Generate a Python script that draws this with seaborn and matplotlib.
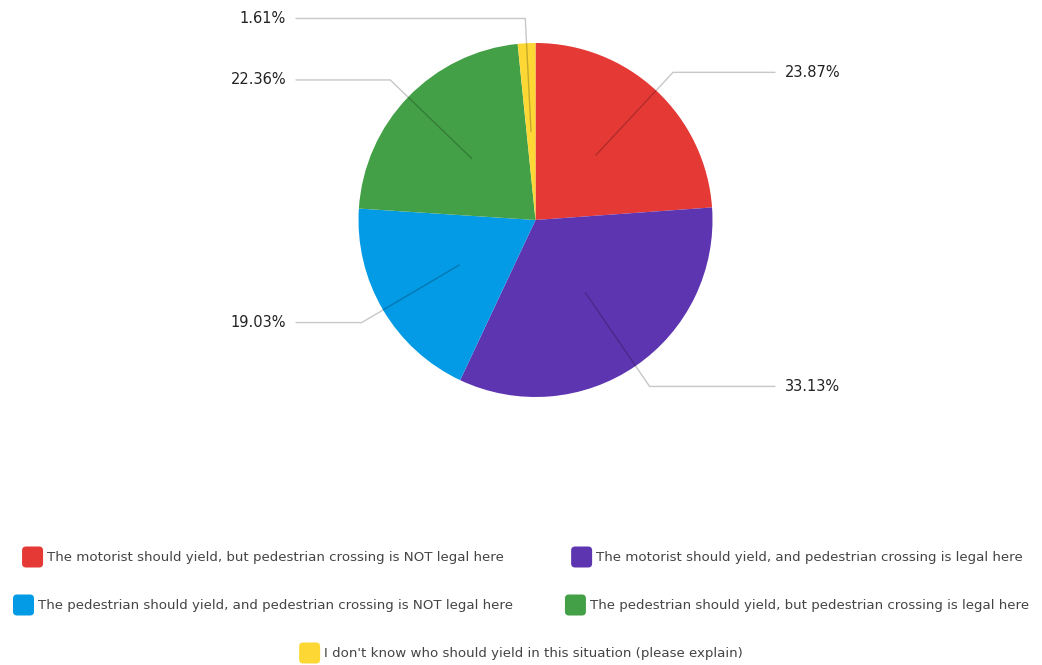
import numpy as np
import matplotlib
matplotlib.use("Agg")
import matplotlib.pyplot as plt
from matplotlib.patches import FancyBboxPatch
import seaborn as sns

# Survey responses, in drawing order (clockwise from 12 o'clock)
categories = [
    "The motorist should yield, but pedestrian crossing is NOT legal here",
    "The motorist should yield, and pedestrian crossing is legal here",
    "The pedestrian should yield, and pedestrian crossing is NOT legal here",
    "The pedestrian should yield, but pedestrian crossing is legal here",
    "I don't know who should yield in this situation (please explain)",
]
shares = [23.87, 33.13, 19.03, 22.36, 1.61]
colors = ["#E53935", "#5E35B1", "#039BE5", "#43A047", "#FDD835"]

sns.set_theme(style="white")
plt.rcParams["font.family"] = ["DejaVu Sans"]

W, H = 1042, 665
fig = plt.figure(figsize=(W / 100, H / 100), dpi=100)

# pie axes placed in pixel terms: centre and radius
cx, cy, r = 535.5, 220.0, 177.0
ax = fig.add_axes([(cx - r) / W, (H - cy - r) / H, 2 * r / W, 2 * r / H])

wedges, _ = ax.pie(shares, colors=colors, startangle=90, counterclock=False,
                   radius=1, wedgeprops=dict(linewidth=0))
ax.set_xlim(-1, 1)
ax.set_ylim(-1, 1)
ax.set_aspect("equal")
ax.axis("off")

# leader lines with percentage labels
x_end = (775 - cx) / r
x_txt = (785 - cx) / r
for w, v in zip(wedges, shares):
    ang = np.deg2rad((w.theta1 + w.theta2) / 2)
    c, s = np.cos(ang), np.sin(ang)
    p0 = (0.5 * c, 0.5 * s)
    p1 = (1.14 * c, 1.14 * s)
    side = 1 if c > 0.1 else -1
    p2 = (side * x_end, p1[1])
    ax.plot([p0[0], p1[0], p2[0]], [p0[1], p1[1], p2[1]], color="black",
            alpha=0.22, lw=1, clip_on=False, solid_joinstyle="miter")
    ax.text(side * x_txt, p1[1], f"{v:.2f}%", ha="left" if side > 0 else "right",
            va="center", fontsize=10.5, color="#222222", clip_on=False)

# legend: two centred columns, last entry centred on its own row
fig.canvas.draw()
renderer = fig.canvas.get_renderer()
rows = [(557, 263, 0), (557, 797, 1), (605, 263, 2), (605, 797, 3), (653, 521, 4)]
box = 21
gap = 4
for y, xc, i in rows:
    t = fig.text(0, 0, categories[i], fontsize=9.6, color="#444444",
                 ha="left", va="center")
    tw = t.get_window_extent(renderer).width
    total = box + gap + tw
    x0 = xc - total / 2
    t.set_position(((x0 + box + gap) / W, (H - y) / H))
    patch = FancyBboxPatch((x0 / W, (H - y - box / 2) / H),
                           box / W, box / H,
                           boxstyle=f"round,pad=0,rounding_size={4 / W}",
                           transform=fig.transFigure, facecolor=colors[i],
                           edgecolor="none", mutation_aspect=W / H)
    fig.add_artist(patch)

fig.savefig("out.png", dpi=100, facecolor="white")
